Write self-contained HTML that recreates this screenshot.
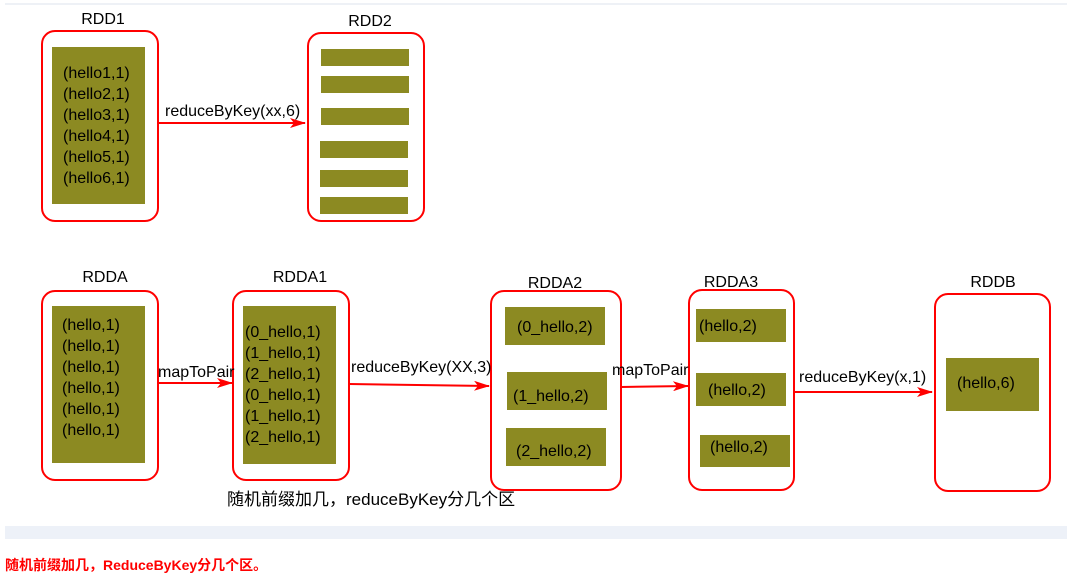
<!DOCTYPE html>
<html><head><meta charset="utf-8"><style>
html,body{margin:0;padding:0;background:#fff;width:1067px;height:575px;overflow:hidden}
svg text{font-family:"Liberation Sans","Noto Sans CJK SC",sans-serif;font-size:16px;fill:#000}
</style></head><body>
<svg width="1067" height="575" xmlns="http://www.w3.org/2000/svg">
<defs><marker id="a" markerWidth="16" markerHeight="10" refX="15" refY="5" orient="auto" markerUnits="userSpaceOnUse"><path d="M0,0 L16,5 L0,10 L4,5 Z" fill="#f00"/></marker></defs>
<rect x="5" y="3" width="1062" height="2" fill="#eef1f6"/>
<g fill="none" stroke="#f00" stroke-width="2">
<rect x="42" y="31" width="116" height="190" rx="13"/>
<rect x="308" y="33" width="116" height="188" rx="13"/>
<rect x="42" y="291" width="116" height="189" rx="13"/>
<rect x="233" y="291" width="116" height="189" rx="13"/>
<rect x="491" y="291" width="130" height="199" rx="13"/>
<rect x="689" y="290" width="105" height="200" rx="13"/>
<rect x="935" y="294" width="115" height="197" rx="13"/>
</g>
<g fill="#8c8a22">
<rect x="52" y="47" width="93" height="157"/>
<rect x="321" y="49" width="88" height="17"/><rect x="321" y="76" width="88" height="17"/><rect x="321" y="108" width="88" height="17"/>
<rect x="320" y="141" width="88" height="17"/><rect x="320" y="170" width="88" height="17"/><rect x="320" y="197" width="88" height="17"/>
<rect x="52" y="306" width="93" height="157"/>
<rect x="243" y="306" width="93" height="158"/>
<rect x="505" y="307" width="100" height="38"/><rect x="507" y="372" width="100" height="38"/><rect x="506" y="428" width="100" height="38"/>
<rect x="696" y="309" width="90" height="33"/><rect x="696" y="373" width="90" height="33"/><rect x="700" y="435" width="90" height="32"/>
<rect x="946" y="358" width="93" height="53"/>
</g>
<g stroke="#f00" stroke-width="2" fill="none" marker-end="url(#a)">
<line x1="158" y1="123" x2="305" y2="123"/>
<line x1="158" y1="383" x2="232" y2="383"/>
<line x1="349" y1="384" x2="489" y2="386"/>
<line x1="621" y1="387" x2="688" y2="386"/>
<line x1="794" y1="392" x2="932" y2="392"/>
</g>
<g text-anchor="middle">
<text x="103" y="24">RDD1</text><text x="370" y="26">RDD2</text>
<text x="105" y="282">RDDA</text><text x="300" y="282">RDDA1</text>
<text x="555" y="288">RDDA2</text><text x="731" y="287">RDDA3</text><text x="993" y="287">RDDB</text>
</g>
<text x="165" y="116">reduceByKey(xx,6)</text>
<text x="158" y="377">mapToPair</text>
<text x="351" y="372">reduceByKey(XX,3)</text>
<text x="612" y="375">mapToPair</text>
<text x="799" y="382">reduceByKey(x,1)</text>
<g>
<text x="63" y="78">(hello1,1)</text><text x="63" y="99">(hello2,1)</text><text x="63" y="120">(hello3,1)</text>
<text x="63" y="141">(hello4,1)</text><text x="63" y="162">(hello5,1)</text><text x="63" y="183">(hello6,1)</text>
<text x="62" y="330">(hello,1)</text><text x="62" y="351">(hello,1)</text><text x="62" y="372">(hello,1)</text>
<text x="62" y="393">(hello,1)</text><text x="62" y="414">(hello,1)</text><text x="62" y="435">(hello,1)</text>
<text x="245" y="337">(0_hello,1)</text><text x="245" y="358">(1_hello,1)</text><text x="245" y="379">(2_hello,1)</text>
<text x="245" y="400">(0_hello,1)</text><text x="245" y="421">(1_hello,1)</text><text x="245" y="442">(2_hello,1)</text>
<text x="517" y="332">(0_hello,2)</text><text x="513" y="401">(1_hello,2)</text><text x="516" y="456">(2_hello,2)</text>
<text x="699" y="331">(hello,2)</text><text x="708" y="395">(hello,2)</text><text x="710" y="452">(hello,2)</text>
<text x="957" y="388">(hello,6)</text>
<text x="227" y="505" style="font-size:17px">随机前缀加几，reduceByKey分几个区</text>
</g>
<rect x="5" y="526" width="1062" height="13" fill="#edf1f8"/>
<text x="5" y="570" style="font-size:14px;font-weight:bold;fill:#f00">随机前缀加几，ReduceByKey分几个区。</text>
</svg>
</body></html>
